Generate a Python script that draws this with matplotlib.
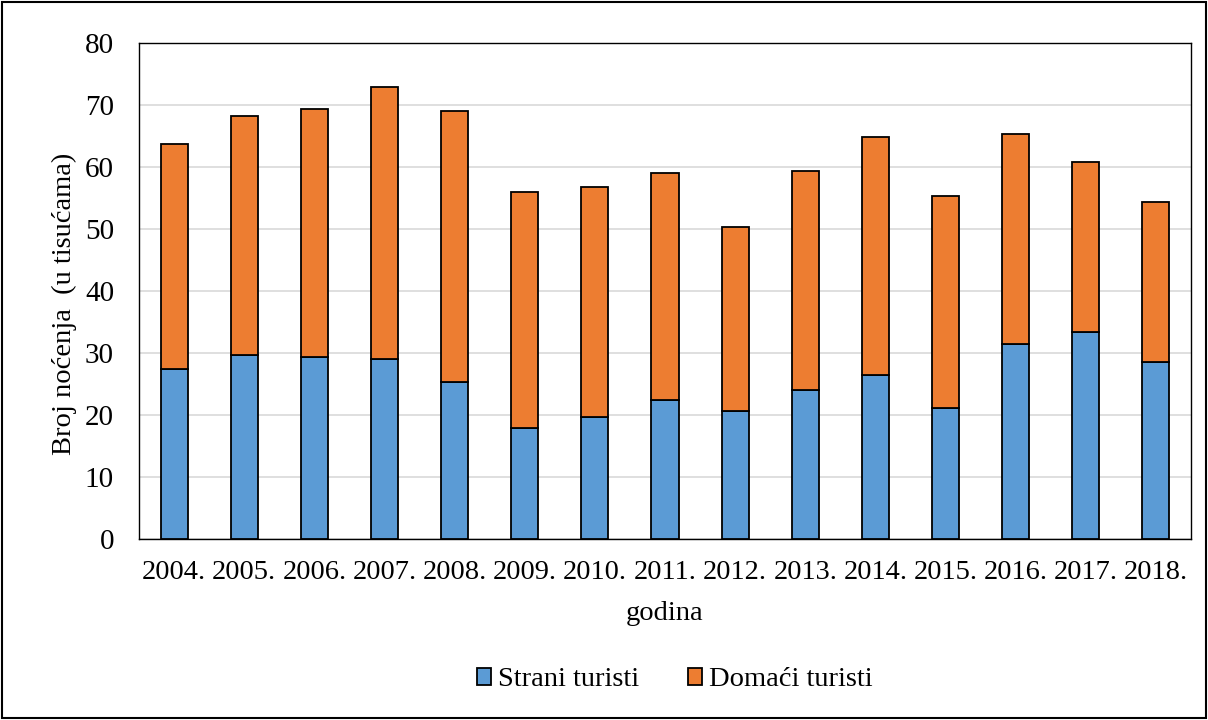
import matplotlib
matplotlib.use("Agg")
import matplotlib.pyplot as plt
from matplotlib.patches import Rectangle

years = ["2004.", "2005.", "2006.", "2007.", "2008.", "2009.", "2010.", "2011.",
         "2012.", "2013.", "2014.", "2015.", "2016.", "2017.", "2018."]
strani = [27.5, 29.7, 29.4, 29.0, 25.3, 17.9, 19.7, 22.4, 20.6, 24.1, 26.5, 21.1, 31.5, 33.4, 28.6]
ukupno = [63.7, 68.2, 69.4, 72.9, 69.1, 56.0, 56.8, 59.1, 50.3, 59.3, 64.9, 55.4, 65.4, 60.8, 54.3]
domaci = [round(t - s, 1) for t, s in zip(ukupno, strani)]

plt.rcParams['font.family'] = ['Liberation Serif', 'DejaVu Serif']

fig = plt.figure(figsize=(12.08, 7.2), dpi=100)
ax = fig.add_axes([139/1208, 1-539/720, (1191-139)/1208, (539-43)/720])

x = range(len(years))
w = 0.385
ax.bar(x, strani, w, color='#5B9BD5', edgecolor='black', linewidth=1.3, label='Strani turisti', zorder=3)
ax.bar(x, domaci, w, bottom=strani, color='#ED7D31', edgecolor='black', linewidth=1.3, label='Domaći turisti', zorder=3)

ax.set_ylim(0, 80)
ax.set_xlim(-0.5, len(years) - 0.5)
ax.set_yticks(range(0, 81, 10))
ax.set_xticks(list(x))
ax.set_xticklabels(years)
ax.tick_params(axis='both', length=0, labelsize=21)
ax.tick_params(axis='x', labelsize=20.5, pad=15)
ax.tick_params(axis='y', pad=18)
ax.yaxis.grid(True, color='#d9d9d9', linewidth=1.2, zorder=0)
ax.set_axisbelow(True)
for s in ax.spines.values():
    s.set_color('black')
    s.set_linewidth(1.0)

ax.set_ylabel('Broj noćenja  (u tisućama)', fontsize=20.5, labelpad=6, y=0.474)
ax.set_xlabel('godina', fontsize=20.5, labelpad=12)

ax.legend(loc='center', bbox_to_anchor=(0.5 + 10/1052, (1 - 680/720 - (1-539/720)) / ((539-43)/720)),
          ncol=2, frameon=False, fontsize=20.5, handlelength=0.5, handleheight=0.5,
          handletextpad=0.25, columnspacing=1.7)

fig.patches.append(Rectangle((2/1208, 2/720), 1 - 4/1208, 1 - 4/720, transform=fig.transFigure,
                             fill=False, edgecolor='black', linewidth=1.5))

fig.savefig('out.png', dpi=100)
